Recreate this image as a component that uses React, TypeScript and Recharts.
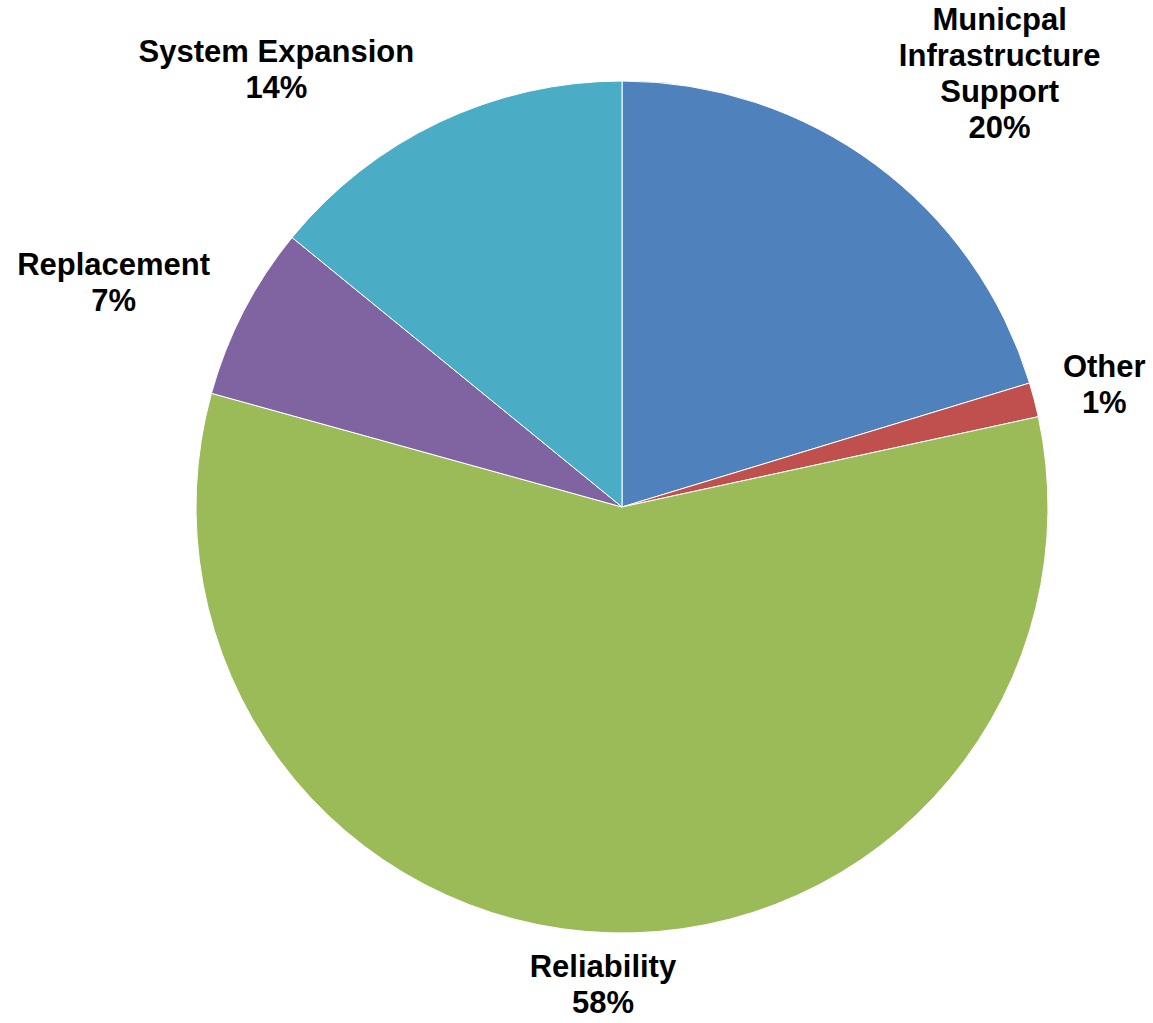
import { PieChart, Pie, Cell } from 'recharts';

const categories = ['Municpal Infrastructure Support', 'Other', 'Reliability', 'Replacement', 'System Expansion'];
const shares = [20.3, 1.3, 57.7, 6.6, 14.1];
const labelLines = [['Municpal', 'Infrastructure', 'Support'], ['Other'], ['Reliability'], ['Replacement'], ['System Expansion']];
const colors = ['#4F81BD', '#C0504D', '#9BBB59', '#8064A2', '#4BACC6'];

// label offsets from the slice's outer edge midpoint to the first text baseline
const labelOffsets = [
  [124, -135],
  [70, -23],
  [-7, 44],
  [-130, -36],
  [-163, -60],
];

const RAD = Math.PI / 180;
const LINE_H = 36;

function renderLabel(props: any) {
  const { cx, cy, midAngle, outerRadius, index, percent } = props;
  const ax = cx + outerRadius * Math.cos(-midAngle * RAD);
  const ay = cy + outerRadius * Math.sin(-midAngle * RAD);
  const [dx, dy] = labelOffsets[index];
  const lines = [...labelLines[index], `${Math.round(percent * 100)}%`];
  return (
    <text
      key={`lbl-${index}`}
      x={ax + dx}
      y={ay + dy}
      textAnchor="middle"
      fill="#000"
      fontFamily="'Liberation Sans', Arial, sans-serif"
      fontWeight="bold"
      fontSize={31}
    >
      {lines.map((l, i) => (
        <tspan key={i} x={ax + dx} dy={i === 0 ? 0 : LINE_H}>
          {l}
        </tspan>
      ))}
    </text>
  );
}

export default function App() {
  const data = categories.map((name, i) => ({ name, value: shares[i] }));
  return (
    <div style={{ position: 'absolute', left: 0, top: 0, width: 1153, height: 1023, background: '#fff' }}>
      <PieChart width={1153} height={1023} margin={{ top: 0, right: 0, bottom: 0, left: 0 }}>
        <Pie
          data={data}
          dataKey="value"
          nameKey="name"
          cx={622}
          cy={507}
          outerRadius={426}
          startAngle={90}
          endAngle={-270}
          stroke="#ffffff"
          strokeWidth={1}
          label={renderLabel}
          labelLine={false}
          isAnimationActive={false}
        >
          {data.map((d, i) => (
            <Cell key={d.name} fill={colors[i]} />
          ))}
        </Pie>
      </PieChart>
    </div>
  );
}
